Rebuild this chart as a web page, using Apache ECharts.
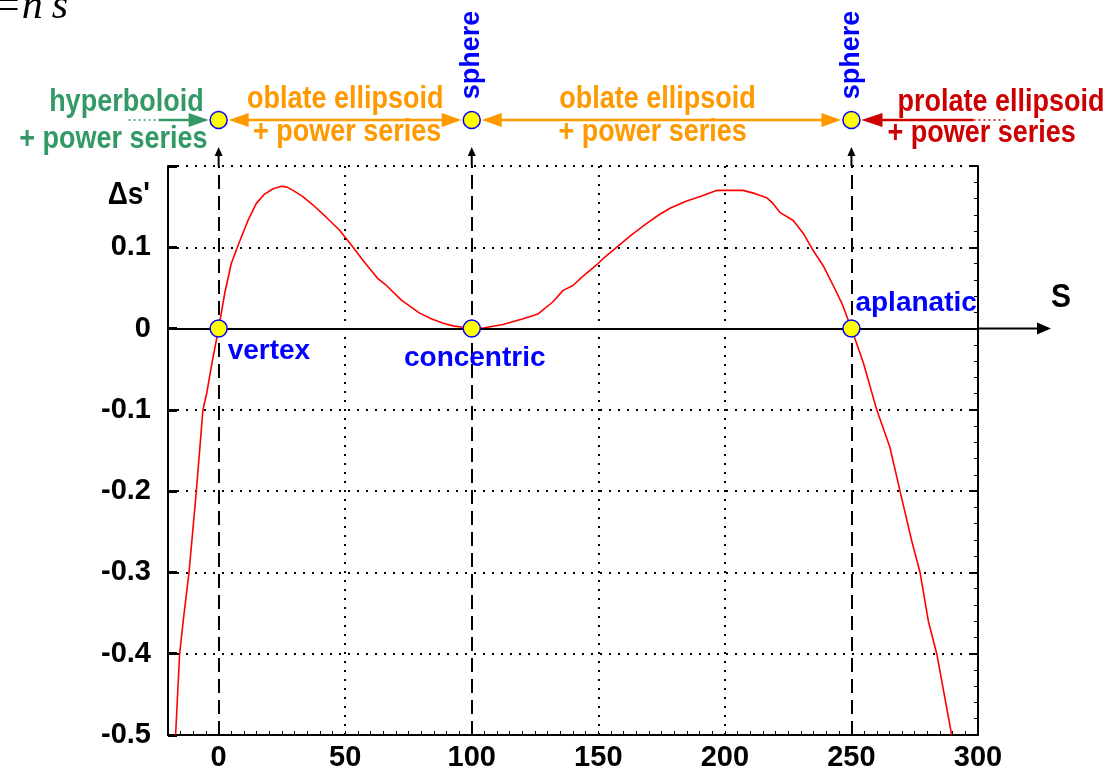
<!DOCTYPE html>
<html>
<head>
<meta charset="utf-8">
<script src="https://cdn.jsdelivr.net/npm/echarts@6/dist/echarts.min.js"></script>
<style>
  html, body { margin: 0; padding: 0; background: #ffffff; }
  #chart { width: 1119px; height: 772px; }
</style>
</head>
<body>
<div id="chart"></div>
<script>
// Path difference Δs' of the aspheric family as a function of the parameter S
const sValues = [
  -17.0, -15.4, -14.0, -11.7, -8.8, -6.2, -4.6, -2.5, 0, 2.5, 5, 8, 11.6, 14.9, 18, 21.5,
  24.8, 27, 29.4, 33, 37.3, 42.5, 47.8, 53.1, 57, 63, 66.3, 72.2, 79.4, 84, 88.7, 93,
  96.6, 100, 105, 112.4, 120.3, 126.2, 132.1, 136.1, 140, 143.4, 149.9, 152.6, 157.2, 163,
  169, 174, 178.3, 184.9, 190.8, 196.7, 202, 207.2, 212, 216.5, 219, 221.7, 227, 231,
  234.9, 238.9, 242.8, 246.1, 250, 254.7, 260, 265.2, 269.2, 273.8, 277.1, 280.4, 283.7, 289.6
];
const dsValues = [
  -0.50, -0.40, -0.36, -0.30, -0.20, -0.10, -0.078, -0.04, 0, 0.045, 0.08, 0.105, 0.133, 0.154, 0.165, 0.172,
  0.175, 0.174, 0.170, 0.163, 0.152, 0.137, 0.121, 0.100, 0.084, 0.061, 0.053, 0.035, 0.019, 0.012, 0.0066, 0.003,
  0.0016, 0, 0.001, 0.005, 0.012, 0.018, 0.033, 0.047, 0.053, 0.063, 0.080, 0.088, 0.100, 0.115,
  0.129, 0.140, 0.148, 0.157, 0.163, 0.170, 0.170, 0.170, 0.166, 0.161, 0.154, 0.143, 0.133, 0.117,
  0.096, 0.077, 0.053, 0.032, 0, -0.042, -0.10, -0.146, -0.20, -0.261, -0.30, -0.36, -0.40, -0.50
];

// Special surfaces on the S axis
const specialS = [0, 100, 250];
const specialNames = ['vertex', 'concentric', 'aplanatic'];
const sphereS = [100, 250];
const sphereName = 'sphere';
const dottedGridS = [50, 150, 200];

// Surface families between the special points
const regionNames = ['hyperboloid', 'oblate ellipsoid', 'oblate ellipsoid', 'prolate ellipsoid'];
const regionSuffix = '+ power series';

const xLabelValues = [0, 50, 100, 150, 200, 250, 300];
const yLabelValues = [-0.5, -0.4, -0.3, -0.2, -0.1, 0, 0.1];
const xAxisName = 'S';
const yAxisName = '\u0394s\'';
const formulaText = 's\'=n\'s';

const FONT = '"Liberation Sans", Arial, Helvetica, sans-serif';
const BLUE = '#0000ff';
const GREEN = '#339966';
const ORANGE = '#ff9900';
const RED = '#cc0000';
const DOT = [2, 7];
const TEXT_STRETCH = 1.13;   // lettering is drawn slightly taller than wide

const chart = echarts.init(document.getElementById('chart'), null, { renderer: 'canvas' });

const curveData = sValues.map((s, i) => [s, dsValues[i]]);

const labelPlacement = [
  { align: 'left', offset: [9, 23] },
  { align: 'center', offset: [3, 30] },
  { align: 'left', offset: [4, -25] }
];

const option = {
  animation: false,
  backgroundColor: '#ffffff',
  grid: { left: 168, right: 141, top: 166, bottom: 37, containLabel: false },
  xAxis: [{
    type: 'value', min: -20, max: 300, interval: 5,
    axisLine: { show: true, onZero: false, lineStyle: { color: '#000', width: 2 } },
    axisTick: { show: true, inside: true, length: 4, lineStyle: { color: '#000', width: 1 } },
    axisLabel: {
      show: true, margin: 8, color: '#000', fontSize: 29, fontWeight: 'bold', fontFamily: FONT,
      formatter: v => (xLabelValues.some(t => Math.abs(t - v) < 1e-6) ? String(Math.round(v)) : '')
    },
    splitLine: { show: false }
  }],
  yAxis: [{
    type: 'value', min: -0.5, max: 0.2, interval: 0.1,
    axisLine: { show: true, onZero: false, lineStyle: { color: '#000', width: 2 } },
    axisTick: { show: true, inside: true, length: 9, lineStyle: { color: '#000', width: 3 } },
    axisLabel: {
      show: true, margin: 17, color: '#000', fontSize: 29, fontWeight: 'bold', fontFamily: FONT,
      formatter: v => {
        const hit = yLabelValues.find(t => Math.abs(t - v) < 1e-6);
        return hit === undefined ? '' : String(hit);
      }
    },
    splitLine: { show: true, lineStyle: { color: '#000', width: 2, type: DOT } }
  }, {
    type: 'value', position: 'right', min: -0.5, max: 0.2, interval: 0.1,
    axisLine: { show: true, onZero: false, lineStyle: { color: '#000', width: 2 } },
    axisTick: { show: true, inside: true, length: 9, lineStyle: { color: '#000', width: 2 } },
    minorTick: { show: true, splitNumber: 5, length: 4, lineStyle: { color: '#000', width: 1 } },
    axisLabel: { show: false },
    splitLine: { show: false }
  }],
  series: [{
    // grid lines: dotted at intermediate S, dashed at the special surfaces, solid S axis
    type: 'line',
    data: [],
    silent: true,
    z: 1,
    markLine: {
      silent: true,
      symbol: 'none',
      animation: false,
      label: { show: false },
      data: [
        ...dottedGridS.map(s => ({ xAxis: s, lineStyle: { color: '#000', width: 2, type: DOT } })),
        ...specialS.map(s => ({ xAxis: s, lineStyle: { color: '#000', width: 2, type: [14, 7] } })),
        { yAxis: 0, lineStyle: { color: '#000', width: 2, type: 'solid' } }
      ]
    }
  }, {
    type: 'line',
    data: curveData,
    showSymbol: false,
    smooth: false,
    z: 3,
    lineStyle: { color: '#ff0000', width: 1.6 }
  }, {
    type: 'scatter',
    z: 10,
    symbol: 'circle',
    symbolSize: 17,
    itemStyle: { color: '#ffff00', borderColor: BLUE, borderWidth: 1.5, opacity: 1 },
    data: specialS.map((s, i) => ({
      value: [s, 0],
      name: specialNames[i],
      label: {
        show: true,
        position: 'inside',
        formatter: specialNames[i],
        align: labelPlacement[i].align,
        verticalAlign: 'middle',
        offset: labelPlacement[i].offset,
        color: BLUE, fontSize: 28, fontWeight: 'bold', fontFamily: FONT
      }
    }))
  }]
};

chart.setOption(option);

// Annotation layer placed with the chart's own scales
const px = s => chart.convertToPixel({ xAxisIndex: 0 }, s);
const py = v => chart.convertToPixel({ yAxisIndex: 0 }, v);

const ROW_Y = 120;
const g = [];

function text(x, y, str, color, align, size, extra) {
  return Object.assign({
    type: 'text', x: x, y: y, z: 20, silent: true,
    scaleY: TEXT_STRETCH,
    style: {
      text: str, x: 0, y: 0, fill: color,
      font: 'bold ' + (size || 27) + 'px ' + FONT,
      align: align, textAlign: align, verticalAlign: 'middle', textVerticalAlign: 'middle'
    }
  }, extra || {});
}
function line(x1, y1, x2, y2, color, width, dash) {
  return {
    type: 'line', z: 15, silent: true,
    shape: { x1, y1, x2, y2 },
    style: { stroke: color, lineWidth: width, lineDash: dash || null }
  };
}
function head(tipX, tipY, dir, color, len, half) {
  // dir: 1 = pointing right, -1 = pointing left, 'up'
  let pts;
  if (dir === 'up') pts = [[tipX, tipY], [tipX - half, tipY + len], [tipX + half, tipY + len]];
  else pts = [[tipX, tipY], [tipX - dir * len, tipY - half], [tipX - dir * len, tipY + half]];
  return { type: 'polygon', z: 16, silent: true, shape: { points: pts }, style: { fill: color } };
}

const cxs = specialS.map(px);
const topY = py(0.2);

// vertical arrows from the plot up to the surface markers
cxs.forEach(cx => {
  g.push(line(cx, topY, cx, 155, '#000', 2));
  g.push(head(cx, 147, 'up', '#000', 9, 4));
});

// hyperboloid arrow (green)
const c0 = cxs[0], c1 = cxs[1], c2 = cxs[2];
g.push(line(c0 - 90, ROW_Y, c0 - 60, ROW_Y, GREEN, 1.5, [2, 3]));
g.push(line(c0 - 60, ROW_Y, c0 - 26, ROW_Y, GREEN, 2.5));
g.push(head(c0 - 10, ROW_Y, 1, GREEN, 20, 7));
g.push(text(c0 - 15, 103, regionNames[0], GREEN, 'right'));
g.push(text(c0 - 11, 140, regionSuffix, GREEN, 'right'));

// oblate ellipsoid arrows (orange)
[[c0, c1], [c1, c2]].forEach(([a, b], k) => {
  g.push(line(a + 28, ROW_Y, b - 28, ROW_Y, ORANGE, 2.5));
  g.push(head(a + 10, ROW_Y, -1, ORANGE, 20, 7));
  g.push(head(b - 10, ROW_Y, 1, ORANGE, 20, 7));
  const mid = (a + b) / 2 - (k === 0 ? 0 : 4);
  g.push(text(mid, 100, regionNames[1 + k], ORANGE, 'center'));
  g.push(text(mid + (k === 0 ? 2 : -5), 133, regionSuffix, ORANGE, 'center'));
});

// prolate ellipsoid arrow (red)
g.push(head(c2 + 10, ROW_Y, -1, RED, 21, 7));
g.push(line(c2 + 29, ROW_Y, c2 + 122, ROW_Y, RED, 2.5));
g.push(line(c2 + 122, ROW_Y, c2 + 155, ROW_Y, RED, 1.5, [2, 3]));
g.push(text(c2 + 46, 103, regionNames[3], RED, 'left'));
g.push(text(c2 + 36, 134, regionSuffix, RED, 'left'));

// surface markers on the top row
cxs.forEach(cx => {
  g.push({
    type: 'circle', z: 18, silent: true,
    shape: { cx: cx, cy: ROW_Y, r: 8.5 },
    style: { fill: '#ffff00', stroke: BLUE, lineWidth: 1.5 }
  });
});

// rotated sphere labels
sphereS.forEach(s => {
  g.push(text(px(s), 55, sphereName, BLUE, 'center', 27, { rotation: Math.PI / 2, scaleY: 1, scaleX: 1 }));
});

// S axis continues past the frame with an arrow
const xEnd = px(300), y0 = py(0);
g.push(line(xEnd, y0, xEnd + 62, y0, '#000', 2));
g.push(head(xEnd + 73, y0, 1, '#000', 14, 6));
g.push(text(xEnd + 83, y0 - 31, xAxisName, '#000', 'center', 30));

// ordinate name
g.push(text(px(-20) - 18, 195, yAxisName, '#000', 'right', 28));

// formula in the top-left corner
g.push({
  type: 'text', x: 68, y: 28, z: 20, silent: true,
  style: {
    text: formulaText, x: 0, y: 0, fill: '#000',
    font: 'italic 42px "Liberation Serif", "Times New Roman", serif',
    align: 'right', textAlign: 'right', verticalAlign: 'bottom', textVerticalAlign: 'bottom'
  }
});

chart.setOption({ graphic: { elements: g } });
</script>
</body>
</html>
